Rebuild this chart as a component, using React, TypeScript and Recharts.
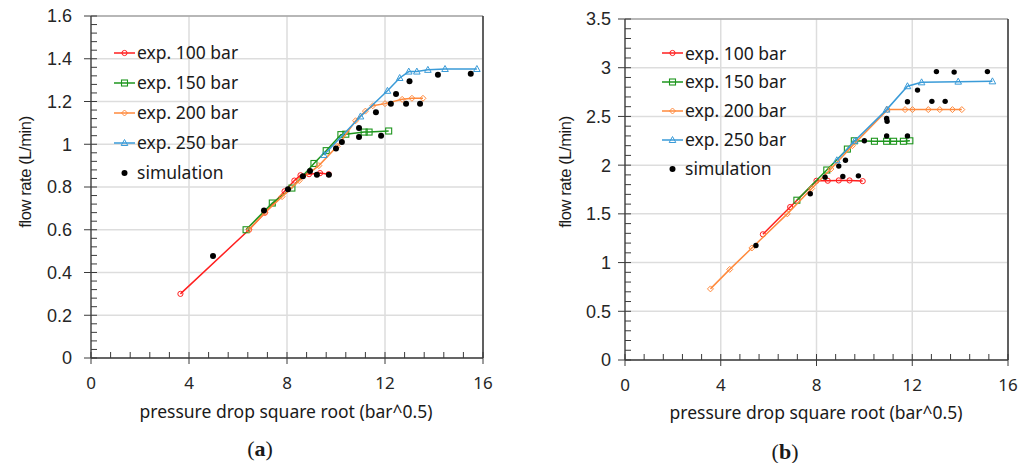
import React from 'react';
import { ScatterChart, Scatter, XAxis, YAxis, CartesianGrid, ReferenceLine } from 'recharts';

type Pt = [number, number];

// panel (a): pressure drop square root vs flow rate
const a100: Pt[] = [[3.65, 0.3], [6.45, 0.6], [7.1, 0.68], [7.9, 0.78], [8.3, 0.83], [8.55, 0.855], [8.9, 0.86], [9.35, 0.865], [9.7, 0.86]];
const a150: Pt[] = [[6.33, 0.6], [7.4, 0.725], [8.2, 0.795], [9.1, 0.91], [9.6, 0.97], [10.2, 1.045], [10.4, 1.047], [11.15, 1.057], [11.35, 1.057], [12.15, 1.062]];
const a200: Pt[] = [[6.45, 0.6], [7.1, 0.68], [7.8, 0.755], [8.5, 0.83], [9.3, 0.9], [10.05, 0.99], [10.8, 1.11], [11.2, 1.155], [11.5, 1.18], [12.0, 1.19], [12.7, 1.21], [13.1, 1.215], [13.55, 1.215]];
const a250: Pt[] = [[9.5, 0.95], [11.0, 1.13], [12.1, 1.25], [12.6, 1.31], [12.97, 1.34], [13.3, 1.34], [13.75, 1.348], [14.45, 1.352], [15.75, 1.352]];
const aSim: Pt[] = [[4.98, 0.477], [7.06, 0.69], [8.04, 0.79], [8.65, 0.85], [8.94, 0.875], [9.22, 0.857], [9.71, 0.857], [10.0, 0.98], [10.24, 1.01], [10.94, 1.076], [10.94, 1.034], [11.84, 1.04], [11.63, 1.15], [12.24, 1.19], [12.45, 1.235], [12.86, 1.19], [13.0, 1.295], [13.43, 1.19], [14.16, 1.325], [15.5, 1.33]];

// panel (b)
const b100: Pt[] = [[5.76, 1.29], [6.9, 1.57], [8.0, 1.84], [8.47, 1.84], [8.93, 1.843], [9.38, 1.843], [9.93, 1.836]];
const b150: Pt[] = [[7.18, 1.64], [8.43, 1.95], [9.29, 2.165], [9.58, 2.25], [10.42, 2.245], [10.93, 2.245], [11.22, 2.245], [11.63, 2.245], [11.9, 2.25]];
const b200: Pt[] = [[3.57, 0.73], [4.375, 0.93], [5.3, 1.15], [6.78, 1.5], [7.8, 1.76], [8.6, 1.96], [9.5, 2.2], [10.97, 2.57], [11.7, 2.57], [12.01, 2.57], [12.67, 2.57], [13.15, 2.57], [13.68, 2.57], [14.07, 2.57]];
const b250: Pt[] = [[8.85, 2.05], [9.6, 2.25], [10.93, 2.57], [11.8, 2.81], [12.39, 2.85], [13.92, 2.857], [15.35, 2.86]];
const bSim: Pt[] = [[5.47, 1.175], [7.74, 1.706], [8.36, 1.877], [9.1, 1.884], [9.75, 1.89], [8.93, 1.99], [9.21, 2.05], [10.0, 2.25], [10.93, 2.3], [11.8, 2.3], [10.93, 2.48], [10.95, 2.45], [11.8, 2.65], [12.22, 2.77], [12.82, 2.655], [13.375, 2.655], [13.01, 2.96], [13.75, 2.955], [15.14, 2.96]];

const xMajor = [0, 4, 8, 12, 16];
const aYMajor = [0, 0.2, 0.4, 0.6, 0.8, 1, 1.2, 1.4, 1.6];
const bYMajor = [0, 0.5, 1, 1.5, 2, 2.5, 3, 3.5];
const SUBDIV = 5;

const names = ['exp. 100 bar', 'exp. 150 bar', 'exp. 200 bar', 'exp. 250 bar', 'simulation'];
const colors = ['#ff1f1f', '#1e961e', '#ff8a3d', '#3a9bd8', '#000000'];
const kinds = ['circle', 'square', 'diamond', 'triangle', 'dot'];

const AXIS = '#3a3a3a';
const GRID = '#dddddd';

const toObj = (pts: Pt[]) => pts.map(([x, y]) => ({ x, y }));

function minorTicks(majors: number[]) {
  const step = (majors[1] - majors[0]) / SUBDIV;
  const out: number[] = [];
  for (let i = 0; i <= (majors.length - 1) * SUBDIV; i++) out.push(+(majors[0] + i * step).toFixed(4));
  return out;
}

function Marker({ kind, cx, cy, color, r }: { kind: string; cx: number; cy: number; color: string; r: number }) {
  switch (kind) {
    case 'circle':
      return <circle cx={cx} cy={cy} r={2.6} fill="none" stroke={color} strokeWidth={1} />;
    case 'square':
      return <rect x={cx - 3} y={cy - 3} width={6} height={6} fill="none" stroke={color} strokeWidth={1.1} />;
    case 'diamond':
      return <polygon points={`${cx},${cy - 3} ${cx + 3},${cy} ${cx},${cy + 3} ${cx - 3},${cy}`} fill="none" stroke={color} strokeWidth={1} />;
    case 'triangle':
      return <polygon points={`${cx},${cy - 3.5} ${cx + 3.3},${cy + 2.5} ${cx - 3.3},${cy + 2.5}`} fill="none" stroke={color} strokeWidth={1} />;
    default:
      return <circle cx={cx} cy={cy} r={r} fill={color} />;
  }
}

const yTick = (majors: number[], gap: number) => (props: any) => {
  const { x, y, payload } = props;
  const v = payload.value as number;
  const major = majors.some((m) => Math.abs(m - v) < 1e-6);
  return (
    <g>
      <line x1={major ? x - 7 : x} x2={x + 6} y1={y} y2={y} stroke={AXIS} strokeWidth={1} />
      {major && (
        <text x={x - gap} y={y} dy="0.36em" textAnchor="end" fontFamily="'Liberation Sans', Arial" fontSize={18} fill="#262626">
          {String(v)}
        </text>
      )}
    </g>
  );
};

const xTick = (props: any) => {
  const { x, y, payload } = props;
  const v = payload.value as number;
  const major = xMajor.some((m) => Math.abs(m - v) < 1e-6);
  return (
    <g>
      <line x1={x} x2={x} y1={y - 6} y2={major ? y + 6 : y} stroke={AXIS} strokeWidth={1} />
      {major && (
        <text x={x} y={y + 25} dy="0.36em" textAnchor="middle" fontFamily="'Noto Sans'" fontSize={17} fill="#262626">
          {String(v)}
        </text>
      )}
    </g>
  );
};

function LegendBox({ left, top, row }: { left: number; top: number; row: number }) {
  return (
    <div style={{ position: 'absolute', left, top }}>
      {names.map((n, i) => (
        <div key={n} style={{ height: row, display: 'flex', alignItems: 'center' }}>
          <svg width={23} height={12} style={{ display: 'block' }}>
            {i < 4 && <line x1={0} x2={21} y1={6} y2={6} stroke={colors[i]} strokeWidth={1.5} />}
            <Marker kind={kinds[i]} cx={10.5} cy={6} color={colors[i]} r={3} />
          </svg>
          <span style={{ fontFamily: "'Noto Sans'", fontSize: 17.5, color: '#1a1a1a', lineHeight: 1 }}>{n}</span>
        </div>
      ))}
    </div>
  );
}

function Panel({
  series,
  yMajor,
  width,
  margin,
  yWidth,
  gap,
  dotR,
}: {
  series: Pt[][];
  yMajor: number[];
  width: number;
  margin: { top: number; right: number; bottom: number; left: number };
  yWidth: number;
  gap: number;
  dotR: number;
}) {
  const yMax = yMajor[yMajor.length - 1];
  return (
    <ScatterChart width={width} height={463} margin={margin}>
      <CartesianGrid horizontalValues={yMajor} verticalValues={xMajor} stroke={GRID} strokeWidth={1.5} />
      <ReferenceLine y={yMax} stroke="#8a8a8a" strokeWidth={1.2} />
      <ReferenceLine x={16} stroke="#333333" strokeWidth={1.5} />
      <XAxis
        type="number"
        dataKey="x"
        domain={[0, 16]}
        ticks={minorTicks(xMajor)}
        interval={0}
        tick={xTick}
        tickLine={false}
        tickSize={0}
        tickMargin={0}
        height={30}
        axisLine={{ stroke: AXIS, strokeWidth: 1.3 }}
        allowDataOverflow
      />
      <YAxis
        type="number"
        dataKey="y"
        domain={[0, yMax]}
        ticks={minorTicks(yMajor)}
        interval={0}
        tick={yTick(yMajor, gap)}
        tickLine={false}
        tickSize={0}
        tickMargin={0}
        width={yWidth}
        axisLine={{ stroke: AXIS, strokeWidth: 1.3 }}
        allowDataOverflow
      />
      {series.map((pts, i) => (
        <Scatter
          key={names[i]}
          name={names[i]}
          data={toObj(pts)}
          fill={colors[i]}
          line={i < 4 ? { stroke: colors[i], strokeWidth: 1.5 } : false}
          lineType="joint"
          isAnimationActive={false}
          shape={(p: any) => <Marker kind={kinds[i]} cx={p.cx} cy={p.cy} color={colors[i]} r={dotR} />}
        />
      ))}
    </ScatterChart>
  );
}

const centered: React.CSSProperties = {
  position: 'absolute',
  transform: 'translate(-50%, -50%)',
  whiteSpace: 'nowrap',
  lineHeight: 1,
  color: '#1a1a1a',
};

export default function App() {
  return (
    <div style={{ position: 'absolute', left: 0, top: 0, width: 1032, height: 463, background: '#fff', overflow: 'hidden' }}>
      <div style={{ position: 'absolute', left: 0, top: 0 }}>
        <Panel
          series={[a100, a150, a200, a250, aSim]}
          yMajor={aYMajor}
          width={520}
          margin={{ top: 16, right: 37, bottom: 75, left: 0 }}
          yWidth={91}
          gap={19}
          dotR={3}
        />
      </div>
      <div style={{ position: 'absolute', left: 520, top: 0 }}>
        <Panel
          series={[b100, b150, b200, b250, bSim]}
          yMajor={bYMajor}
          width={512}
          margin={{ top: 19, right: 24, bottom: 73, left: 0 }}
          yWidth={105}
          gap={14}
          dotR={2.7}
        />
      </div>

      <LegendBox left={114} top={38} row={30} />
      <LegendBox left={662} top={39} row={28.8} />

      {[
        { x: 286, y: 412, cx: 25, cap: 'a', capX: 260, capY: 449 },
        { x: 816, y: 413, cx: 565, cap: 'b', capX: 785, capY: 452 },
      ].map((p) => (
        <React.Fragment key={p.cap}>
          <div style={{ ...centered, left: p.x, top: p.y, fontFamily: "'Noto Sans'", fontSize: 17.5 }}>
            pressure drop square root (bar^0.5)
          </div>
          <div
            style={{
              ...centered,
              left: p.cx,
              top: 172,
              transform: 'translate(-50%, -50%) rotate(-90deg)',
              fontFamily: "'Liberation Sans', Arial",
              fontSize: 16.5,
              letterSpacing: -0.4,
            }}
          >
            flow rate (L/min)
          </div>
          <div style={{ ...centered, left: p.capX, top: p.capY, fontFamily: "'Liberation Serif', serif", fontSize: 22 }}>
            (<b>{p.cap}</b>)
          </div>
        </React.Fragment>
      ))}
    </div>
  );
}
